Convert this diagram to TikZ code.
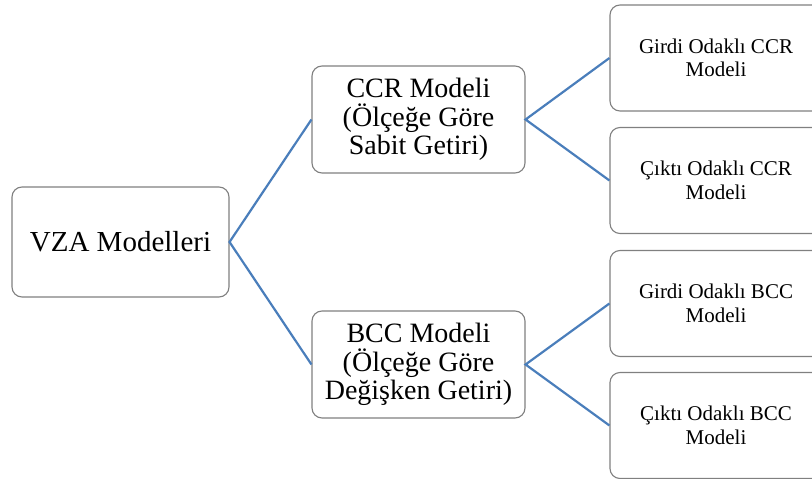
\documentclass[tikz,border=0pt]{standalone}
\usepackage{fontspec}
\setmainfont{Liberation Serif}
\definecolor{linkblue}{RGB}{74,126,187}
\definecolor{boxgray}{RGB}{128,128,128}
\begin{document}
\begin{tikzpicture}[x=1pt,y=-1pt,
  box/.style={draw=boxgray, line width=1.1pt, rounded corners=10pt, fill=white, align=center, inner sep=0pt},
  big/.style={box, font=\fontsize{28}{28.5}\selectfont, minimum width=213pt, minimum height=107pt},
  small/.style={box, font=\fontsize{21}{23.5}\selectfont, minimum width=212pt, minimum height=106pt},
  link/.style={draw=linkblue, line width=2.2pt}]
\useasboundingbox (0,0) rectangle (812,479);
\clip (0,0) rectangle (812,479);
\node[big, font=\fontsize{29}{30}\selectfont, minimum width=217pt, minimum height=110pt] (vza) at (120.5,242) {VZA Modelleri};
\node[big] (ccr) at (418.5,119.5) {CCR Modeli\\(Ölçeğe Göre\\Sabit Getiri)};
\node[big] (bcc) at (418.5,364.5) {BCC Modeli\\(Ölçeğe Göre\\Değişken Getiri)};
\node[small] (gccr) at (716,58) {Girdi Odaklı CCR\\Modeli};
\node[small] (cccr) at (716,180.5) {Çıktı Odaklı CCR\\Modeli};
\node[small] (gbcc) at (716,303.5) {Girdi Odaklı BCC\\Modeli};
\node[small] (cbcc) at (716,425.5) {Çıktı Odaklı BCC\\Modeli};
\draw[link] (ccr.west) -- (vza.east) -- (bcc.west);
\draw[link] (gccr.west) -- (ccr.east) -- (cccr.west);
\draw[link] (gbcc.west) -- (bcc.east) -- (cbcc.west);
\end{tikzpicture}
\end{document}
